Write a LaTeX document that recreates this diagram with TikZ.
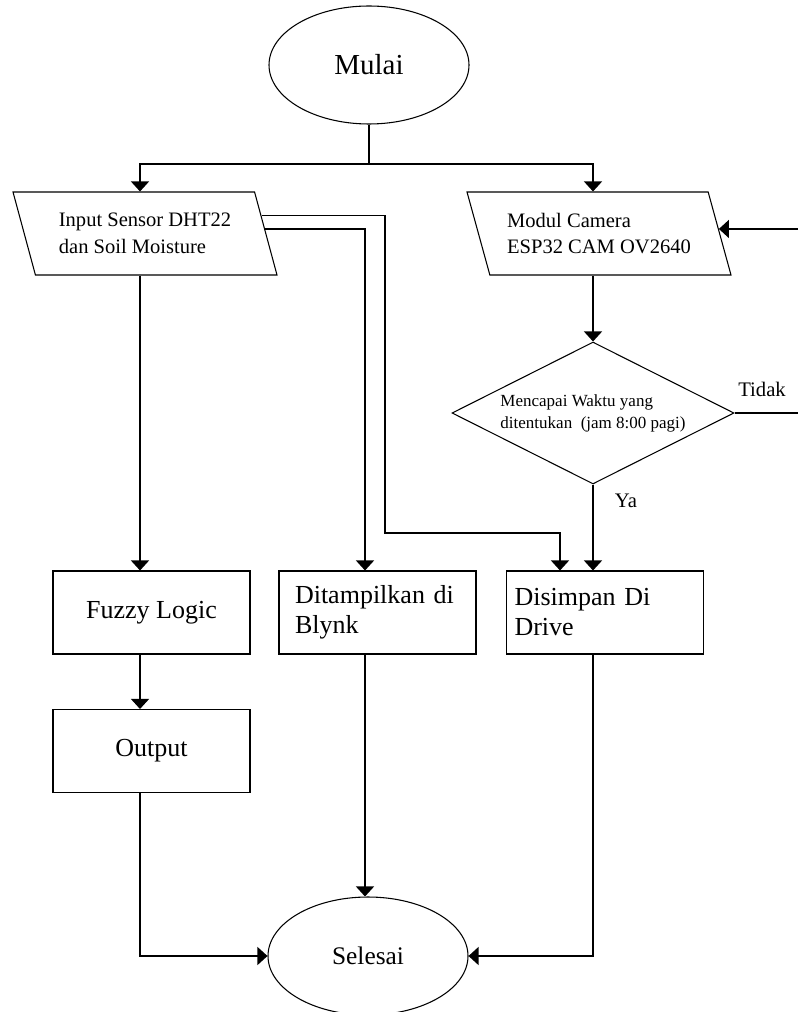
\documentclass[tikz,border=0pt]{standalone}
\usepackage{fontspec}
\setmainfont{Liberation Serif}
\usetikzlibrary{shapes.geometric,arrows.meta,calc}

\tikzset{
  flow/.style={line width=0.9pt},
  arr/.style={line width=0.9pt, -{Triangle[width=13.5pt,length=7.5pt]}},
  terminal/.style={ellipse, draw, line width=0.8pt, minimum width=150pt, minimum height=88.5pt, inner sep=0pt},
  iobox/.style={trapezium, trapezium left angle=119, trapezium right angle=61, trapezium stretches body, draw, line width=0.8pt, minimum width=198pt, minimum height=62.25pt, inner sep=0pt, align=left, font=\fontsize{15.4}{20}\selectfont},
  procbox/.style={rectangle, draw, line width=0.8pt, minimum width=147.75pt, minimum height=62.25pt, inner sep=0pt, font=\fontsize{19.5}{22.5}\selectfont},
  decision/.style={diamond, shape aspect=2, draw, line width=0.8pt, minimum width=211.5pt, minimum height=106.5pt, inner sep=0pt, align=left, font=\fontsize{12.75}{16.5}\selectfont},
  lbl/.style={font=\fontsize{15.5}{18}\selectfont, inner sep=0pt},
}

\begin{document}
\begin{tikzpicture}[x=0.75pt, y=-0.75pt]
    \path[use as bounding box, clip] (0,0) rectangle (798,1012);

    % shapes
    \node[terminal, font=\fontsize{21.75}{24}\selectfont] (mulai) at (369,65) {Mulai};
    \node[iobox] (inp) at (145,233.5) {Input Sensor DHT22\\dan Soil Moisture};
    \node[iobox] (modul) at (599,233.5) {Modul Camera\\ESP32 CAM OV2640};
    \node[decision] (dec) at (593,413) {Mencapai Waktu yang\\ditentukan~ (jam 8:00 pagi)};
    \node[procbox] (fuzzy) at (151.5,612.5) {Fuzzy Logic};
    \node[procbox, text width=123.75pt, align=left] (blynk) at (377.5,612.5) {Ditampilkan di\\Blynk};
    \node[procbox, text width=135.75pt, align=left] (disimpan) at (605,612.5) {Disimpan Di\\Drive};
    \node[procbox] (output) at (151.5,751) {Output};
    \node[terminal, font=\fontsize{19}{22}\selectfont] (selesai) at (368,956) {Selesai};

    % labels
    \node[lbl] (tidak) at (762,389) {Tidak};
    \node[lbl] (ya) at (626,501) {Ya};

    % columns and bends
    \coordinate (colA) at (140,0);
    \coordinate (colB) at (365,0);
    \coordinate (colC) at (593,0);
    \coordinate (colD) at (560,0);
    \coordinate (split) at (369,164);
    \coordinate (bendA) at (385,533);
    \coordinate (loopR) at (806,300);

    % connectors
    \draw[flow] (mulai) -- (split);
    \draw[arr] (split) -| (inp.north -| colA);
    \draw[arr] (split) -| (modul.north -| colC);
    \draw[arr] (inp.south -| colA) -- (fuzzy.north -| colA);
    \draw[arr] ($(inp.top right corner)!0.446!(inp.bottom right corner)$) -| (blynk.north -| colB);
    \draw[arr] ($(inp.top right corner)!0.29!(inp.bottom right corner)$) -| (bendA) -| (disimpan.north -| colD);
    \draw[arr] (modul.south -| colC) -- (dec.north);
    \draw[arr] (dec.south) -- (disimpan.north -| colC);
    \draw[arr] (dec.east) -| (loopR) |- ($(modul.top right corner)!0.446!(modul.bottom right corner)$);
    \draw[arr] (fuzzy.south -| colA) -- (output.north -| colA);
    \draw[arr] (output.south -| colA) |- (selesai.west);
    \draw[arr] (blynk.south -| colB) -- (selesai.north -| colB);
    \draw[arr] (disimpan.south -| colC) |- (selesai.east);
\end{tikzpicture}
\end{document}
